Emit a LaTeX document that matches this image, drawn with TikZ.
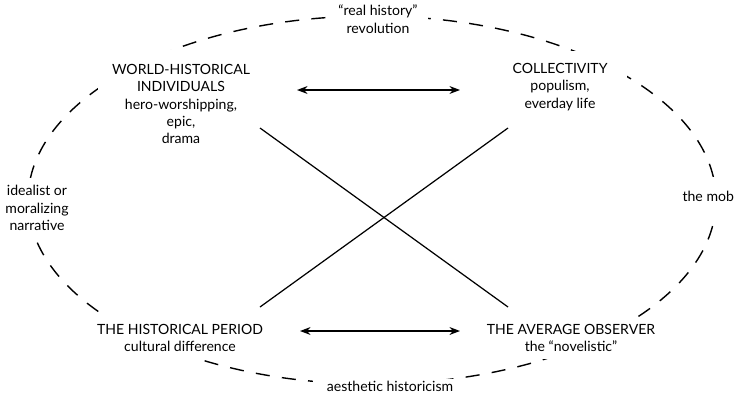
\documentclass[tikz,border=0pt]{standalone}
\usepackage{fontspec}
\setmainfont{Lato}
\usetikzlibrary{arrows.meta}
\begin{document}
\begin{tikzpicture}[x=0.02cm, y=-0.02cm,
  lab/.style={align=center, fill=white, inner sep=1pt,
              font=\fontsize{8}{9.9}\selectfont},
  ar/.style={{Stealth[length=6pt, width=4.5pt]}-{Stealth[length=6pt, width=4.5pt]}, line width=0.7pt},
  ln/.style={line width=0.7pt},
  rim/.style={dash pattern=on 8pt off 7pt, line width=0.8pt},
]
\useasboundingbox (0,0) rectangle (736,396);

\draw[rim] (372,200) ellipse [x radius=344, y radius=184];

\node[lab, inner sep=8pt] (wh) at (181,104) {WORLD-HISTORICAL\\INDIVIDUALS\\hero-worshipping,\\epic,\\drama};
\node[lab, inner xsep=11pt, inner ysep=7pt] (co) at (560,87) {COLLECTIVITY\\populism,\\everday life};
\node[lab, inner xsep=5pt, inner ysep=4pt] (hp) at (180,338) {THE HISTORICAL PERIOD\\cultural difference};
\node[lab, inner xsep=5pt, inner ysep=4pt] (ao) at (571,338) {THE AVERAGE OBSERVER\\the “novelistic”};

\node[lab, inner xsep=6pt] (rh) at (378,19) {“real history”\\revolution};
\node[lab, inner ysep=4pt] (im) at (37,208) {idealist or\\moralizing\\narrative};
\node[lab, inner ysep=8pt, anchor=east] (mb) at (736,196) {the mob};
\node[lab, inner xsep=8pt] (ah) at (390,386) {aesthetic historicism};

\coordinate (t1) at (297,90);  \coordinate (t2) at (460,90);
\coordinate (b1) at (300,331); \coordinate (b2) at (460,331);
\draw[ar] (t1) -- (t2);
\draw[ar] (b1) -- (b2);

\coordinate (x1) at (260,128); \coordinate (x2) at (508,307);
\coordinate (x3) at (508,128); \coordinate (x4) at (260,307);
\draw[ln] (x1) -- (x2);
\draw[ln] (x3) -- (x4);
\end{tikzpicture}
\end{document}
